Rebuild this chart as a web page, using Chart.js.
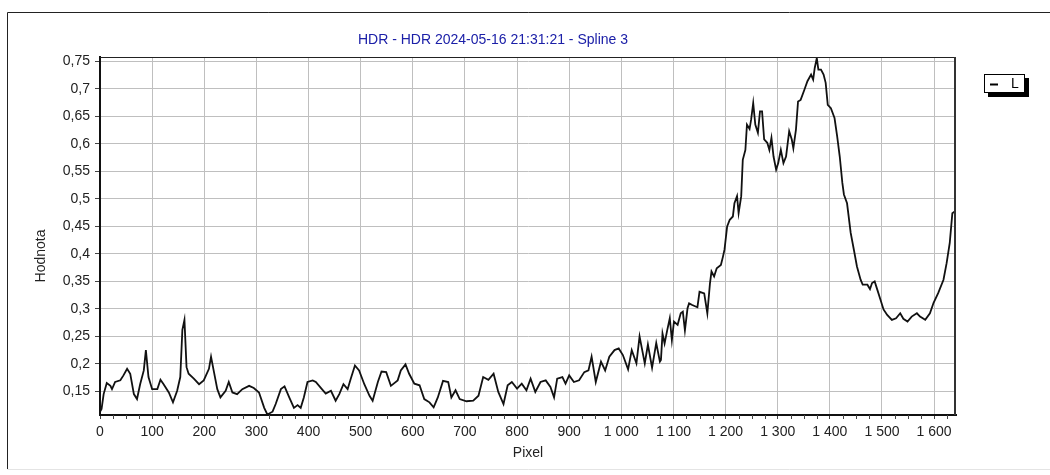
<!DOCTYPE html>
<html>
<head>
<meta charset="utf-8">
<script src="https://cdn.jsdelivr.net/npm/chart.js@4/dist/chart.umd.min.js"></script>
<style>
html, body { margin:0; padding:0; background:#fff; }
#wrap { width:1050px; height:475px; }
</style>
</head>
<body>
<div id="wrap"><canvas id="hdrChart" width="1050" height="475"></canvas></div>
<script>
// values (pixel position -> value)
var pixelX = [0,3,7,13,20,23,29,39,45,52,58,65,71,77,84,88,93,100,110,116,122,132,140,148,154,158,162,166,170,180,190,199,209,213,218,225,231,241,247,254,263,273,286,295,305,315,321,331,337,347,354,363,372,379,385,391,398,408,414,424,433,443,452,459,467,475,481,489,497,507,517,523,533,540,549,558,
    571,577,586,593,603,613,622,632,640,648,658,668,674,682,690,703,716,726,735,745,755,764,774,782,790,800,809,818,826,835,845,855,864,871,877,887,893,900,909,919,929,937,943,951,961,969,977,987,995,1003,1013,1020,1029,1035,1045,1051,1059,1067,1074,
    1076,1079,1083,1088,1093,1097,1101,1108,1114,1118,1122,1127,1130,1136,1146,1150,1159,1165,1170,1173,1178,1183,1191,1195,
    1198,1203,1208,1214,1217,1222,1225,1230,1233,1238,1241,1246,1249,1253,1257,1262,1266,1270,1274,1280,1284,1288,1292,1297,1301,1306,1311,1316,1322,1327,1330,1335,1339,1344,1351,1357,1364,1368,1371,1375,1378,1383,1388,1392,
    1396,1402,1409,1414,1419,1424,1427,1433,1440,1446,1452,1459,1463,1472,1477,1481,1486,1491,1497,1503,1510,1519,1527,1535,1541,1549,1557,1567,1573,1583,1592,1599,1608,1618,1624,1630,1635,1641];
var hodnota = [0.113,0.118,0.145,0.165,0.160,0.154,0.167,0.170,0.179,0.191,0.182,0.145,0.136,0.163,0.188,0.225,0.176,0.154,0.154,0.171,0.163,0.148,0.130,0.151,0.176,0.262,0.280,0.194,0.182,0.173,0.163,0.170,0.191,0.213,0.188,0.154,0.139,0.151,0.167,0.148,0.145,0.154,0.160,0.156,0.148,0.120,0.108,0.113,0.127,0.154,0.159,0.139,0.120,0.125,0.120,0.139,0.167,0.170,0.167,0.156,0.146,0.151,0.133,0.145,0.163,0.154,0.173,0.197,0.188,0.163,0.142,0.133,0.167,0.186,0.185,0.160,
    0.170,0.188,0.199,0.182,0.164,0.161,0.136,0.130,0.121,0.139,0.169,0.167,0.139,0.152,0.136,0.132,0.133,0.142,0.176,0.171,0.182,0.149,0.127,0.161,0.167,0.155,0.164,0.152,0.173,0.149,0.167,0.170,0.158,0.139,0.173,0.176,0.164,0.179,0.167,0.170,0.185,0.188,0.213,0.167,0.204,0.188,0.213,0.225,0.228,0.216,0.190,0.225,0.201,0.250,0.201,0.235,0.193,0.238,0.204,
    0.207,0.255,0.237,0.261,0.283,0.243,0.277,0.271,0.292,0.295,0.261,0.301,0.310,0.307,0.303,0.331,0.328,0.292,0.346,0.368,0.359,0.374,0.380,0.395,
    0.408,0.450,0.462,0.468,0.492,0.505,0.474,0.505,0.571,0.589,0.635,0.627,0.644,0.674,0.635,0.620,0.659,0.659,0.608,0.602,0.589,0.611,0.577,0.553,0.565,0.589,0.565,0.577,0.623,0.608,0.592,0.626,0.677,0.680,0.698,0.714,0.726,0.717,0.738,0.756,0.735,0.735,0.726,0.711,
    0.671,0.665,0.647,0.614,0.577,0.529,0.508,0.492,0.438,0.408,0.377,0.353,0.344,0.344,0.336,0.347,0.350,0.335,0.317,0.299,0.289,0.280,0.283,0.292,0.282,0.277,0.286,0.292,0.286,0.280,0.292,0.311,0.329,0.353,0.383,0.420,0.474,0.478];

var xTicks = [0,100,200,300,400,500,600,700,800,900,1000,1100,1200,1300,1400,1500,1600];
var yTicks = [0.15,0.2,0.25,0.3,0.35,0.4,0.45,0.5,0.55,0.6,0.65,0.7,0.75];
var seriesLabel = 'L';
var chartTitle = 'HDR - HDR 2024-05-16 21:31:21 - Spline 3';
var xTitle = 'Pixel';
var yTitle = 'Hodnota';

var FONT = '"Liberation Sans", Arial, sans-serif';

var points = pixelX.map(function(x, i){ return {x: x, y: hodnota[i]}; });

function fmtX(v){
    if (v >= 1000) return Math.floor(v/1000) + ' ' + String(v % 1000).padStart(3, '0');
    return String(v);
}
function fmtY(v){
    return String(Math.round(v*100)/100).replace('.', ',');
}

var decorPlugin = {
    id: 'decor',
    beforeDraw: function(chart){
        var ctx = chart.ctx;
        ctx.save();
        ctx.fillStyle = '#fff';
        ctx.fillRect(0, 0, chart.width, chart.height);
        // outer panel frame
        ctx.strokeStyle = '#222';
        ctx.lineWidth = 1;
        ctx.beginPath();
        ctx.moveTo(7.5, 469); ctx.lineTo(7.5, 12.5); ctx.lineTo(1050, 12.5);
        ctx.stroke();
        ctx.strokeStyle = '#e4e4e4';
        ctx.beginPath();
        ctx.moveTo(7.5, 469.5); ctx.lineTo(1050, 469.5);
        ctx.stroke();
        ctx.restore();
    },
    afterDraw: function(chart){
        var ctx = chart.ctx, a = chart.chartArea, xs = chart.scales.x;
        ctx.save();
        // top and right edges of plot
        ctx.strokeStyle = '#222';
        ctx.lineWidth = 1;
        ctx.beginPath();
        ctx.moveTo(a.left, a.top + 0.5); ctx.lineTo(a.right, a.top + 0.5);
        ctx.stroke();
        ctx.strokeStyle = '#333';
        ctx.lineWidth = 2;
        ctx.beginPath();
        ctx.moveTo(a.right - 1, a.top); ctx.lineTo(a.right - 1, a.bottom);
        ctx.stroke();
        // minor ticks on x axis
        ctx.strokeStyle = '#444';
        ctx.lineWidth = 1;
        ctx.beginPath();
        for (var v = 25; v < xs.max; v += 25) {
            if (v % 100 === 0) continue;
            var px = Math.round(xs.getPixelForValue(v)) + 0.5;
            ctx.moveTo(px, a.bottom); ctx.lineTo(px, a.bottom + 4);
        }
        ctx.stroke();
        // y axis title
        ctx.fillStyle = '#222';
        ctx.font = '14px ' + FONT;
        ctx.textAlign = 'center';
        ctx.textBaseline = 'middle';
        ctx.translate(41, 256);
        ctx.rotate(-Math.PI / 2);
        ctx.fillText(yTitle, 0, 0);
        ctx.setTransform(1, 0, 0, 1, 0, 0);
        // legend box
        var lx = 984, ly = 74, lw = 41, lh = 19;
        ctx.fillStyle = '#000';
        ctx.fillRect(lx + 4, ly + 4, lw, lh);
        ctx.fillStyle = '#fff';
        ctx.fillRect(lx, ly, lw, lh);
        ctx.strokeStyle = '#000';
        ctx.lineWidth = 1;
        ctx.strokeRect(lx + 0.5, ly + 0.5, lw - 1, lh - 1);
        ctx.lineWidth = 2;
        ctx.beginPath();
        ctx.moveTo(lx + 6, ly + 10.5); ctx.lineTo(lx + 14, ly + 10.5);
        ctx.stroke();
        ctx.fillStyle = '#000';
        ctx.font = '14px ' + FONT;
        ctx.textAlign = 'left';
        ctx.textBaseline = 'middle';
        ctx.fillText(chart.data.datasets[0].label, lx + 27, ly + 10);
        ctx.restore();
    }
};

var ctx = document.getElementById('hdrChart').getContext('2d');
var hdrChart = new Chart(ctx, {
    type: 'line',
    data: {
        datasets: [{
            label: seriesLabel,
            data: points,
            borderColor: '#111',
            borderWidth: 1.8,
            pointRadius: 0,
            fill: false,
            tension: 0
        }]
    },
    options: {
        responsive: false,
        animation: false,
        devicePixelRatio: 1,
        layout: { padding: { left: 30, right: 94, top: 0, bottom: 0 } },
        plugins: {
            legend: { display: false },
            tooltip: { enabled: false },
            title: {
                display: true,
                text: chartTitle,
                color: '#1c20a8',
                font: { family: FONT, size: 14, weight: 'normal' },
                padding: { top: 31.6, bottom: 8.6 }
            }
        },
        scales: {
            x: {
                type: 'linear',
                min: 0,
                max: 1642,
                afterBuildTicks: function(s){ s.ticks = xTicks.map(function(v){ return {value: v}; }); },
                afterFit: function(s){ s.height = 60; },
                ticks: {
                    color: '#222',
                    font: { family: FONT, size: 14 },
                    padding: 5,
                    maxRotation: 0,
                    autoSkip: false,
                    callback: function(v){ return fmtX(v); }
                },
                grid: { color: '#bfbfbf', lineWidth: 1, tickLength: 4, tickColor: '#444' },
                border: { color: '#111', width: 2 },
                title: {
                    display: true,
                    text: xTitle,
                    color: '#222',
                    font: { family: FONT, size: 14 },
                    padding: { top: 0, bottom: 13.6 }
                }
            },
            y: {
                min: 0.107,
                max: 0.758,
                afterBuildTicks: function(s){ s.ticks = yTicks.map(function(v){ return {value: v}; }); },
                afterFit: function(s){ s.width = 70; },
                ticks: {
                    color: '#222',
                    font: { family: FONT, size: 14 },
                    padding: 5,
                    autoSkip: false,
                    callback: function(v){ return fmtY(v); }
                },
                grid: { color: '#bfbfbf', lineWidth: 1, tickLength: 5, tickColor: '#444' },
                border: { color: '#111', width: 2 },
                title: { display: false }
            }
        }
    },
    plugins: [decorPlugin]
});
</script>
</body>
</html>
